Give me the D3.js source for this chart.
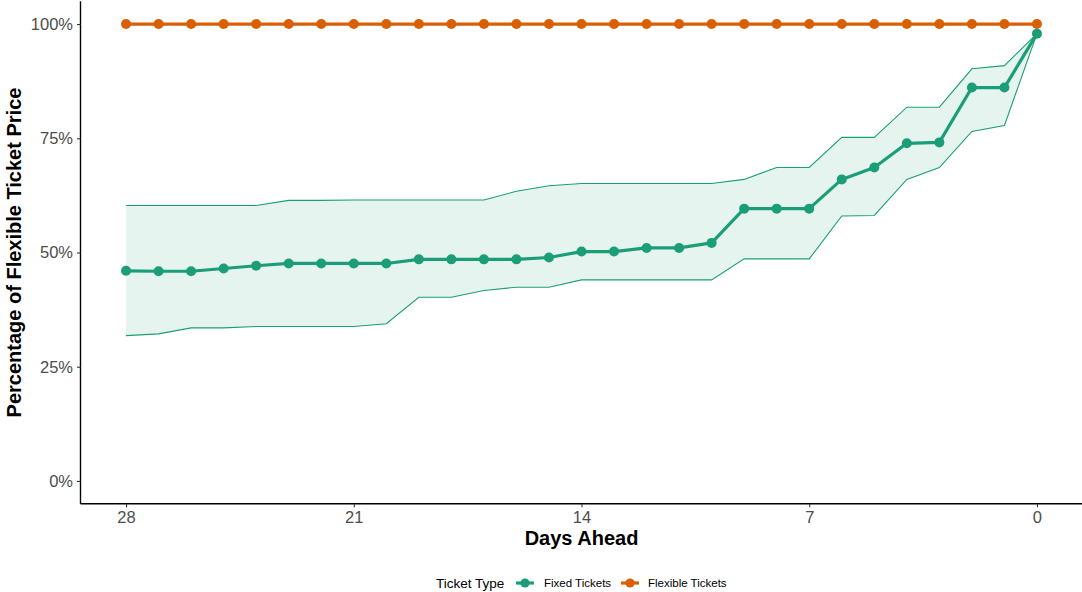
<!DOCTYPE html>
<html>
<head>
<meta charset="utf-8">
<script src="https://cdn.jsdelivr.net/npm/d3@7"></script>
<style>
  html, body { margin: 0; padding: 0; background: #fff; }
  svg { display: block; font-family: "Liberation Sans", Arial, sans-serif; }
</style>
</head>
<body>
<svg id="chart" width="1082" height="592"></svg>
<script>
// Days before departure, from 28 down to 0
const days = [28, 27, 26, 25, 24, 23, 22, 21, 20, 19, 18, 17, 16, 15, 14,
              13, 12, 11, 10, 9, 8, 7, 6, 5, 4, 3, 2, 1, 0];

// Fixed tickets: mean share of the flexible price (%) with lower/upper band
const fixedMean  = [46.0, 45.9, 45.9, 46.5, 47.1, 47.6, 47.6, 47.6, 47.6, 48.5,
                    48.5, 48.5, 48.5, 48.9, 50.2, 50.2, 51.0, 51.0, 52.1, 59.6,
                    59.6, 59.6, 66.0, 68.6, 73.9, 74.1, 86.1, 86.1, 97.9];
const fixedLower = [31.8, 32.2, 33.5, 33.5, 33.8, 33.8, 33.8, 33.8, 34.4, 40.2,
                    40.2, 41.7, 42.4, 42.4, 44.0, 44.0, 44.0, 44.0, 44.0, 48.6,
                    48.6, 48.6, 58.0, 58.1, 66.0, 68.6, 76.5, 77.8, 97.9];
const fixedUpper = [60.3, 60.3, 60.3, 60.3, 60.3, 61.4, 61.4, 61.5, 61.5, 61.5,
                    61.5, 61.5, 63.4, 64.6, 65.1, 65.1, 65.1, 65.1, 65.1, 66.0,
                    68.6, 68.6, 75.2, 75.2, 81.8, 81.8, 90.2, 90.9, 97.9];

// Flexible tickets are the reference price
const flexibleValues = [100, 100, 100, 100, 100, 100, 100, 100, 100, 100,
                        100, 100, 100, 100, 100, 100, 100, 100, 100, 100,
                        100, 100, 100, 100, 100, 100, 100, 100, 100];

const xTicks = [28, 21, 14, 7, 0];
const yTicks = [0, 25, 50, 75, 100];
const seriesNames = ["Fixed Tickets", "Flexible Tickets"];
const seriesColors = ["#1B9E77", "#D95F02"];
const legendTitle = "Ticket Type";

const svg = d3.select("#chart");
const panel = { left: 80.5, right: 1082.5, top: 1.2, bottom: 503.8 };

// Reversed x: far-ahead days on the left, departure day on the right (5% padding)
const xPad = 28 * 0.05;
const x = d3.scaleLinear()
  .domain([28 + xPad, 0 - xPad])
  .range([panel.left, panel.right]);
const yPad = 100 * 0.05;
const y = d3.scaleLinear()
  .domain([0 - yPad, 100 + yPad])
  .range([panel.bottom, panel.top]);

const fixed = days.map((d, i) => ({ day: d, mean: fixedMean[i], lo: fixedLower[i], hi: fixedUpper[i] }));
const flexible = days.map((d, i) => ({ day: d, value: flexibleValues[i] }));

const g = svg.append("g");

// Band around fixed tickets
g.append("path")
  .datum(fixed)
  .attr("fill", seriesColors[0])
  .attr("fill-opacity", 0.11)
  .attr("d", d3.area().x(d => x(d.day)).y0(d => y(d.lo)).y1(d => y(d.hi)));
g.append("path")
  .datum(fixed)
  .attr("fill", "none")
  .attr("stroke", seriesColors[0])
  .attr("stroke-width", 1.1)
  .attr("d", d3.line().x(d => x(d.day)).y(d => y(d.hi)));
g.append("path")
  .datum(fixed)
  .attr("fill", "none")
  .attr("stroke", seriesColors[0])
  .attr("stroke-width", 1.1)
  .attr("d", d3.line().x(d => x(d.day)).y(d => y(d.lo)));

// Flexible tickets line + points
g.append("path")
  .datum(flexible)
  .attr("fill", "none")
  .attr("stroke", seriesColors[1])
  .attr("stroke-width", 3.2)
  .attr("d", d3.line().x(d => x(d.day)).y(d => y(d.value)));
g.selectAll("circle.flex")
  .data(flexible)
  .join("circle")
  .attr("class", "flex")
  .attr("cx", d => x(d.day))
  .attr("cy", d => y(d.value))
  .attr("r", 5)
  .attr("fill", seriesColors[1]);

// Fixed tickets line + points
g.append("path")
  .datum(fixed)
  .attr("fill", "none")
  .attr("stroke", seriesColors[0])
  .attr("stroke-width", 3.2)
  .attr("stroke-linejoin", "round")
  .attr("d", d3.line().x(d => x(d.day)).y(d => y(d.mean)));
g.selectAll("circle.fixed")
  .data(fixed)
  .join("circle")
  .attr("class", "fixed")
  .attr("cx", d => x(d.day))
  .attr("cy", d => y(d.mean))
  .attr("r", 5)
  .attr("fill", seriesColors[0]);

// Axes
const xAxis = svg.append("g")
  .attr("transform", `translate(0,${panel.bottom})`)
  .call(d3.axisBottom(x).tickValues(xTicks).tickSize(3.5).tickPadding(4));
const yAxis = svg.append("g")
  .attr("transform", `translate(${panel.left},0)`)
  .call(d3.axisLeft(y).tickValues(yTicks).tickFormat(d => d + "%").tickSize(3.5).tickPadding(4));

[xAxis, yAxis].forEach(a => {
  a.select(".domain").attr("stroke", "#000").attr("stroke-width", 1.4);
  a.selectAll(".tick line").attr("stroke", "#333").attr("stroke-width", 1.1);
  a.selectAll(".tick text")
    .attr("fill", "#4D4D4D")
    .attr("font-size", 16.5)
    .attr("font-family", "Liberation Sans, Arial, sans-serif");
});
// Axis lines only span the panel, without end caps
xAxis.select(".domain").attr("d", `M${panel.left},0H${panel.right}`);
yAxis.select(".domain").attr("d", `M0,${panel.top}V${panel.bottom}`);

// Axis titles
svg.append("text")
  .attr("x", (panel.left + panel.right) / 2)
  .attr("y", 545)
  .attr("text-anchor", "middle")
  .attr("font-size", 20)
  .attr("font-weight", "bold")
  .attr("fill", "#000")
  .text("Days Ahead");
svg.append("text")
  .attr("transform", `translate(21,${(panel.top + panel.bottom) / 2}) rotate(-90)`)
  .attr("text-anchor", "middle")
  .attr("font-size", 20)
  .attr("font-weight", "bold")
  .attr("fill", "#000")
  .text("Percentage of Flexible Ticket Price");

// Legend
const legend = svg.append("g").attr("transform", "translate(0,583)");
legend.append("text")
  .attr("x", 436)
  .attr("y", 4.8)
  .attr("font-size", 13.5)
  .attr("fill", "#000")
  .text(legendTitle);
const keyX = [516, 621];
const labelX = [544, 648];
seriesNames.forEach((name, i) => {
  legend.append("line")
    .attr("x1", keyX[i]).attr("x2", keyX[i] + 18)
    .attr("y1", 0).attr("y2", 0)
    .attr("stroke", seriesColors[i])
    .attr("stroke-width", 3.2);
  legend.append("circle")
    .attr("cx", keyX[i] + 9).attr("cy", 0).attr("r", 4.6)
    .attr("fill", seriesColors[i]);
  legend.append("text")
    .attr("x", labelX[i])
    .attr("y", 4)
    .attr("font-size", 11.5)
    .attr("fill", "#000")
    .text(name);
});
</script>
</body>
</html>
